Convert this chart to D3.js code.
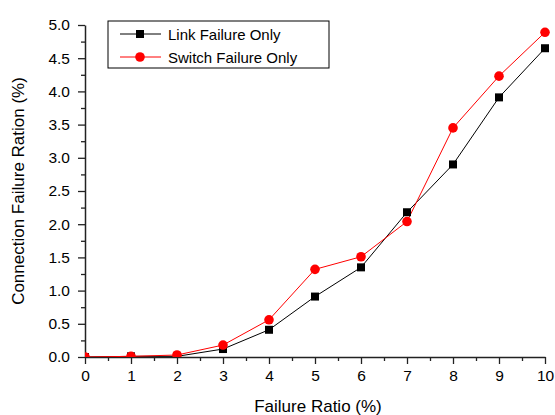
<!DOCTYPE html>
<html>
<head>
<meta charset="utf-8">
<script src="https://cdn.jsdelivr.net/npm/d3@7"></script>
<style>
  body { margin: 0; background: #fff; }
  text { font-family: "Liberation Sans", Arial, sans-serif; fill: #000; }
</style>
</head>
<body>
<div class="chart"></div>
<script>
// chart values
var failureRatio = [0, 1, 2, 3, 4, 5, 6, 7, 8, 9, 10];
var linkFailure = [0, 0.01, 0.01, 0.12, 0.41, 0.91, 1.35, 2.18, 2.90, 3.91, 4.65];
var switchFailure = [0, 0.01, 0.03, 0.18, 0.56, 1.32, 1.51, 2.04, 3.45, 4.23, 4.89];
var xTicks = [0, 1, 2, 3, 4, 5, 6, 7, 8, 9, 10];
var yTicks = [0, 0.5, 1, 1.5, 2, 2.5, 3, 3.5, 4, 4.5, 5];
var seriesNames = ["Link Failure Only", "Switch Failure Only"];

var svgWidth = 555;
var svgHeight = 415;

var margin = { top: 25, right: 10, bottom: 58, left: 85 };
var width = 545 - margin.left;
var height = 357 - margin.top;

var svg = d3.select(".chart")
  .append("svg")
  .attr("width", svgWidth)
  .attr("height", svgHeight);

var chartGroup = svg.append("g")
  .attr("transform", `translate(${margin.left}, ${margin.top})`);

// scales
var x = d3.scaleLinear().domain([0, 10]).range([0, width]);
var y = d3.scaleLinear().domain([0, 5]).range([height, 0]);

// clip to the plot area, markers at zero get cut by the axes
svg.append("defs").append("clipPath").attr("id", "plotclip")
  .append("rect")
  .attr("x", 0).attr("y", -20)
  .attr("width", width + 20).attr("height", height + 20);

// minor ticks
chartGroup.append("g")
  .attr("transform", `translate(0, ${height})`)
  .call(d3.axisBottom(x).tickValues(d3.range(0.5, 10, 1)).tickSize(4).tickFormat(""))
  .call(g => g.select(".domain").remove());
chartGroup.append("g")
  .call(d3.axisLeft(y).tickValues(d3.range(0.25, 5, 0.5)).tickSize(4).tickFormat(""))
  .call(g => g.select(".domain").remove());

// main axes
var bottomAxis = d3.axisBottom(x).tickValues(xTicks).tickSize(7).tickSizeOuter(0).tickPadding(6);
var leftAxis = d3.axisLeft(y).tickValues(yTicks).tickSize(7).tickSizeOuter(0).tickPadding(8)
  .tickFormat(d3.format(".1f"));

var xAxisG = chartGroup.append("g")
  .attr("transform", `translate(0, ${height})`)
  .call(bottomAxis);
var yAxisG = chartGroup.append("g")
  .call(leftAxis);

[xAxisG, yAxisG].forEach(function(g) {
  g.selectAll("text").style("font-size", "15.5px").style("font-family", "Liberation Sans, Arial, sans-serif");
  g.select(".domain").attr("stroke-width", 1.5).attr("stroke", "#222");
});
chartGroup.selectAll(".tick line").attr("stroke", "#222").attr("stroke-width", 1.3);

// series
var line = d3.line()
  .x((d, i) => x(failureRatio[i]))
  .y(d => y(d));

var plot = chartGroup.append("g").attr("clip-path", "url(#plotclip)");

plot.append("path")
  .datum(linkFailure)
  .attr("fill", "none")
  .attr("stroke", "#000")
  .attr("stroke-width", 1)
  .attr("d", line);

plot.append("path")
  .datum(switchFailure)
  .attr("fill", "none")
  .attr("stroke", "#ff0000")
  .attr("stroke-width", 1)
  .attr("d", line);

var sq = 8;
plot.selectAll(".sq")
  .data(linkFailure)
  .enter()
  .append("rect")
  .attr("x", (d, i) => x(failureRatio[i]) - sq / 2)
  .attr("y", d => y(d) - sq / 2)
  .attr("width", sq)
  .attr("height", sq)
  .attr("fill", "#000");

plot.selectAll(".dot")
  .data(switchFailure)
  .enter()
  .append("circle")
  .attr("cx", (d, i) => x(failureRatio[i]))
  .attr("cy", d => y(d))
  .attr("r", 4.8)
  .attr("fill", "#ff0000");

// legend
var legend = svg.append("g").attr("transform", "translate(108, 21)");
legend.append("rect")
  .attr("width", 221).attr("height", 47)
  .attr("fill", "#fff").attr("stroke", "#000").attr("stroke-width", 1);

var colors = ["#000", "#ff0000"];
seriesNames.forEach(function(name, i) {
  var row = legend.append("g").attr("transform", `translate(0, ${13 + i * 23})`);
  row.append("line")
    .attr("x1", 12).attr("x2", 53).attr("y1", 0).attr("y2", 0)
    .attr("stroke", colors[i]).attr("stroke-width", 1);
  if (i === 0) {
    row.append("rect").attr("x", 32 - 4).attr("y", -4).attr("width", 8).attr("height", 8).attr("fill", "#000");
  } else {
    row.append("circle").attr("cx", 32).attr("cy", 0).attr("r", 4.8).attr("fill", "#ff0000");
  }
  row.append("text")
    .attr("x", 60).attr("y", 5.5)
    .style("font-size", "15px")
    .text(name);
});

// axis labels
svg.append("text")
  .attr("x", 318).attr("y", 412)
  .attr("text-anchor", "middle")
  .style("font-size", "17px")
  .text("Failure Ratio (%)");

svg.append("text")
  .attr("transform", `translate(24, ${margin.top + height / 2}) rotate(-90)`)
  .attr("text-anchor", "middle")
  .style("font-size", "17px")
  .text("Connection Failure Ration (%)");
</script>
</body>
</html>
